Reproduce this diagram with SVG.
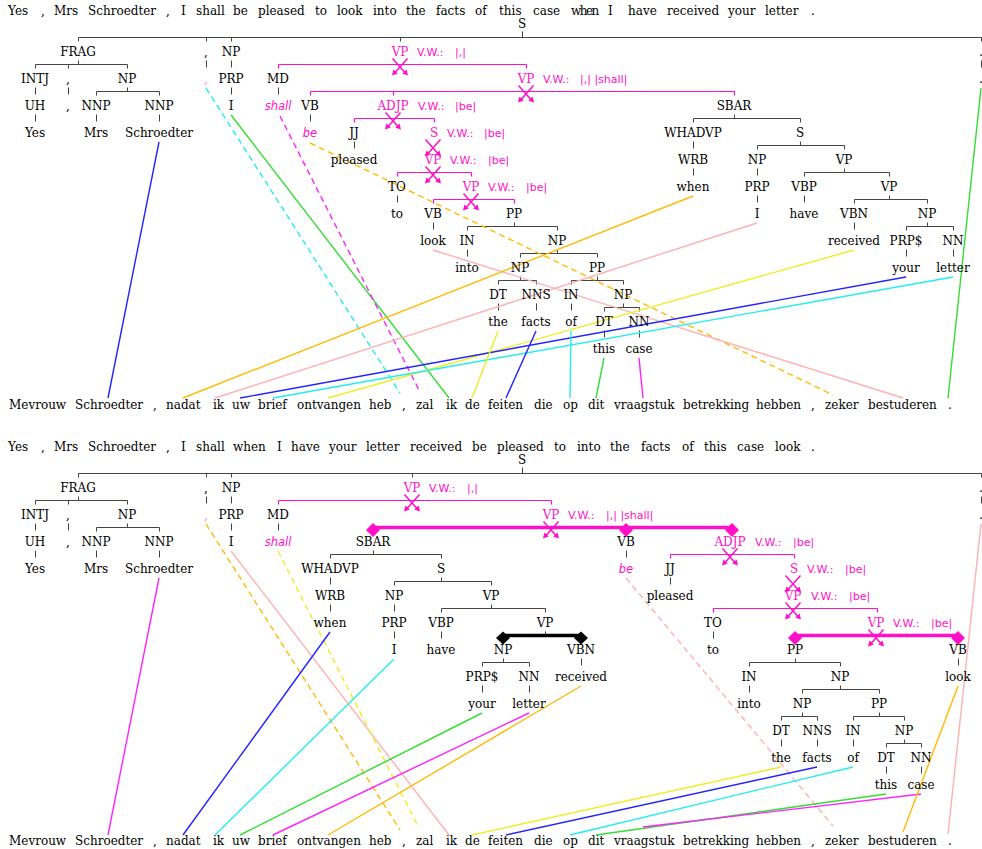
<svg xmlns="http://www.w3.org/2000/svg" width="982" height="849" viewBox="0 0 982 849">
<style>
text{font-family:"DejaVu Serif",serif;font-size:12px;fill:#000}
.l{text-anchor:middle}
.lm{text-anchor:middle;fill:#ff10c8}
.vw{font-family:"DejaVu Sans",sans-serif;font-size:11px;fill:#ff10c8}
.it{font-family:"DejaVu Sans",sans-serif;font-style:italic;font-size:11.5px;fill:#ff10c8;text-anchor:middle}
.pc{text-anchor:middle;fill:#ff88c8}
.t{stroke:#444;stroke-width:1;fill:none}
.tm{stroke:#ff10c8;stroke-width:1.2;fill:none}
.kb{stroke:#000;stroke-width:3.5;fill:none}
.km{stroke:#ff10c8;stroke-width:3.5;fill:none}
.al line{fill:none;stroke-width:1.4}
.d{stroke-dasharray:6 4}
.B{stroke:#2222ff}.C{stroke:#22eeee}.G{stroke:#33dd33}.M{stroke:#ff22ff}.O{stroke:#ffbb00}.P{stroke:#ffb0b0}.Y{stroke:#eeee22}
</style>
<defs>
<g id="xm">
<path d="M-7.5,-8.5 L6.3,7 M7.5,-8.5 L-6.3,7" stroke="#ff10c8" stroke-width="1.5" fill="none"/>
<path d="M8,8.5 L2.2,6.6 L6.6,2.5Z M-8,8.5 L-2.2,6.6 L-6.6,2.5Z" fill="#ff10c8"/>
</g>
<path id="dm" d="M0,-7 L7,0 L0,7 L-7,0Z" fill="#ff10c8"/>
<path id="db" d="M0,-6.5 L7,0 L0,6.5 L-7,0Z" fill="#000"/>
</defs>
<rect width="982" height="849" fill="#fff"/>

<g id="sentences">
<text id="s-en1" y="15"><tspan x="8">Yes</tspan><tspan x="41">,</tspan><tspan x="54">Mrs</tspan><tspan x="88">Schroedter</tspan><tspan x="166">,</tspan><tspan x="181">I</tspan><tspan x="196">shall</tspan><tspan x="233">be</tspan><tspan x="258">pleased</tspan><tspan x="315">to</tspan><tspan x="337">look</tspan><tspan x="373">into</tspan><tspan x="406">the</tspan><tspan x="436">facts</tspan><tspan x="475">of</tspan><tspan x="499">this</tspan><tspan x="533">case</tspan><tspan x="571" style="letter-spacing:-1.5px">when</tspan><tspan x="608">I</tspan><tspan x="628">have</tspan><tspan x="667">received</tspan><tspan x="728">your</tspan><tspan x="765">letter</tspan><tspan x="811">.</tspan></text>
<text id="s-nl1" y="409"><tspan x="9">Mevrouw</tspan><tspan x="75">Schroedter</tspan><tspan x="153">,</tspan><tspan x="166">nadat</tspan><tspan x="213">ik</tspan><tspan x="232">uw</tspan><tspan x="258">brief</tspan><tspan x="297">ontvangen</tspan><tspan x="369">heb</tspan><tspan x="402">,</tspan><tspan x="416">zal</tspan><tspan x="446">ik</tspan><tspan x="465">de</tspan><tspan x="488">feiten</tspan><tspan x="534">die</tspan><tspan x="563">op</tspan><tspan x="588">dit</tspan><tspan x="614">vraagstuk</tspan><tspan x="683">betrekking</tspan><tspan x="756">hebben</tspan><tspan x="811">,</tspan><tspan x="825">zeker</tspan><tspan x="868">bestuderen</tspan><tspan x="948">.</tspan></text>
<text id="s-en2" y="451"><tspan x="8">Yes</tspan><tspan x="41">,</tspan><tspan x="54">Mrs</tspan><tspan x="88">Schroedter</tspan><tspan x="166">,</tspan><tspan x="181">I</tspan><tspan x="196">shall</tspan><tspan x="233">when</tspan><tspan x="277">I</tspan><tspan x="291">have</tspan><tspan x="329">your</tspan><tspan x="366">letter</tspan><tspan x="410">received</tspan><tspan x="472">be</tspan><tspan x="497">pleased</tspan><tspan x="554">to</tspan><tspan x="577">into</tspan><tspan x="610">the</tspan><tspan x="641">facts</tspan><tspan x="682">of</tspan><tspan x="704">this</tspan><tspan x="737">case</tspan><tspan x="775">look</tspan><tspan x="811">.</tspan></text>
<text id="s-nl2" y="845"><tspan x="9">Mevrouw</tspan><tspan x="75">Schroedter</tspan><tspan x="153">,</tspan><tspan x="166">nadat</tspan><tspan x="213">ik</tspan><tspan x="232">uw</tspan><tspan x="258">brief</tspan><tspan x="297">ontvangen</tspan><tspan x="369">heb</tspan><tspan x="402">,</tspan><tspan x="416">zal</tspan><tspan x="446">ik</tspan><tspan x="465">de</tspan><tspan x="488">feiten</tspan><tspan x="534">die</tspan><tspan x="563">op</tspan><tspan x="588">dit</tspan><tspan x="614">vraagstuk</tspan><tspan x="683">betrekking</tspan><tspan x="756">hebben</tspan><tspan x="811">,</tspan><tspan x="825">zeker</tspan><tspan x="868">bestuderen</tspan><tspan x="948">.</tspan></text>
</g>

<g id="connectors">
<g id="tree-edges" transform="translate(0.5,0.5)">
<path class="t" d="M522,31V37 M78,37H981 M78,37V41 M206,37V41 M231,37V41 M400,37V41 M981,37V41 M78,60V64 M35,64H127 M35,64V68 M68,64V68 M127,64V68 M206,60V67 M231,60V67 M981,60V67 M35,87V94 M68,87V94 M127,87V91 M96,91H159 M96,91V95 M159,91V95 M231,87V94 M278,87V94 M35,114V121 M96,114V121 M159,114V121 M310,114V121 M734,114V118 M693,118H800 M693,118V122 M800,118V122 M354,141V148 M693,141V148 M800,141V145 M757,145H844 M757,145V149 M844,145V149 M693,168V175 M757,168V175 M844,168V172 M804,172H889 M804,172V176 M889,172V176 M397,195V202 M757,195V202 M804,195V202 M889,195V199 M854,199H927 M854,199V203 M927,199V203 M433,222V229 M514,222V226 M467,226H557 M467,226V230 M557,226V230 M854,222V229 M927,222V226 M906,226H953 M906,226V230 M953,226V230 M467,249V256 M557,249V253 M520,253H597 M520,253V257 M597,253V257 M906,249V256 M953,249V256 M520,276V280 M498,280H536 M498,280V284 M536,280V284 M597,276V280 M571,280H623 M571,280V284 M623,280V284 M498,303V310 M536,303V310 M571,303V310 M623,303V307 M604,307H639 M604,307V311 M639,307V311 M604,330V337 M639,330V337"/>
<path class="tm" d="M278,64H526 M278,64V68 M526,64V68 M310,91H734 M310,91V95 M393,91V95 M734,91V95 M354,118H434 M354,118V122 M434,118V122 M397,172H471 M397,172V176 M471,172V176 M433,199H514 M433,199V203 M514,199V203"/>
<path class="t" d="M522,467V473 M78,473H981 M78,473V477 M206,473V477 M231,473V477 M412,473V477 M981,473V477 M78,496V500 M35,500H127 M35,500V504 M68,500V504 M127,500V504 M206,496V503 M231,496V503 M981,496V503 M35,523V530 M68,523V530 M127,523V527 M96,527H159 M96,527V531 M159,527V531 M231,523V530 M278,523V530 M35,550V557 M96,550V557 M159,550V557 M373,550V554 M330,554H441 M330,554V558 M441,554V558 M626,550V557 M330,577V584 M441,577V581 M394,581H491 M394,581V585 M491,581V585 M670,577V584 M330,604V611 M394,604V611 M491,604V608 M441,608H545 M441,608V612 M545,608V612 M394,631V638 M441,631V638 M545,631V635 M713,631V638 M503,658V662 M482,662H529 M482,662V666 M529,662V666 M581,658V665 M795,658V662 M749,662H840 M749,662V666 M840,662V666 M958,658V665 M482,685V692 M529,685V692 M749,685V692 M840,685V689 M802,689H879 M802,689V693 M879,689V693 M802,712V716 M781,716H817 M781,716V720 M817,716V720 M879,712V716 M853,716H904 M853,716V720 M904,716V720 M781,739V746 M817,739V746 M853,739V746 M904,739V743 M886,743H921 M886,743V747 M921,743V747 M886,766V773 M921,766V773"/>
<path class="tm" d="M278,500H551 M278,500V504 M551,500V504 M670,554H794 M670,554V558 M794,554V558 M713,608H877 M713,608V612 M877,608V612"/>
<path class="kb" d="M503,635H581"/>
<path class="km" d="M373,527H732 M795,635H958"/>
</g>
<g id="markers">
<use href="#xm" x="400" y="67"/><use href="#xm" x="526" y="94"/><use href="#xm" x="393" y="121"/><use href="#xm" x="433" y="148"/><use href="#xm" x="433" y="175"/><use href="#xm" x="471" y="202"/>
<use href="#xm" x="412" y="503"/><use href="#xm" x="551" y="530"/><use href="#xm" x="730" y="557"/><use href="#xm" x="793" y="584"/><use href="#xm" x="793" y="611"/><use href="#xm" x="876" y="638"/>
<use href="#dm" x="373" y="530"/><use href="#dm" x="626" y="530"/><use href="#dm" x="732" y="530"/><use href="#dm" x="795" y="638"/><use href="#dm" x="958" y="638"/>
<use href="#db" x="503" y="638"/><use href="#db" x="581" y="638"/>
</g>
<g id="alignments" class="al">
<line class="B" x1="159" y1="142" x2="108" y2="398"/>
<line class="C d" x1="206" y1="88" x2="400" y2="393"/>
<line class="G" x1="231" y1="115" x2="449" y2="398"/>
<line class="M d" x1="280" y1="116" x2="419" y2="390"/>
<line class="O d" x1="310" y1="143" x2="833" y2="395"/>
<line class="P" x1="433" y1="250" x2="903" y2="398"/>
<line class="O" x1="693" y1="196" x2="183" y2="398"/>
<line class="P" x1="757" y1="223" x2="215" y2="398"/>
<line class="Y" x1="854" y1="250" x2="328" y2="398"/>
<line class="B" x1="906" y1="277" x2="240" y2="398"/>
<line class="C" x1="953" y1="277" x2="273" y2="398"/>
<line class="Y" x1="498" y1="331" x2="472" y2="398"/>
<line class="B" x1="536" y1="331" x2="506" y2="398"/>
<line class="C" x1="571" y1="331" x2="570" y2="398"/>
<line class="G" x1="604" y1="358" x2="596" y2="398"/>
<line class="M" x1="639" y1="358" x2="643" y2="398"/>
<line class="G" x1="981" y1="88" x2="948" y2="398"/>
<line class="M" x1="159" y1="578" x2="108" y2="835"/>
<line class="O d" x1="206" y1="524" x2="400" y2="830"/>
<line class="P" x1="231" y1="551" x2="449" y2="835"/>
<line class="Y d" x1="278" y1="551" x2="419" y2="828"/>
<line class="B" x1="330" y1="632" x2="183" y2="835"/>
<line class="C" x1="394" y1="659" x2="215" y2="835"/>
<line class="G" x1="482" y1="713" x2="240" y2="835"/>
<line class="M" x1="529" y1="713" x2="273" y2="835"/>
<line class="O" x1="581" y1="686" x2="328" y2="835"/>
<line class="P d" x1="626" y1="578" x2="833" y2="826"/>
<line class="Y" x1="781" y1="767" x2="472" y2="835"/>
<line class="B" x1="817" y1="767" x2="506" y2="835"/>
<line class="C" x1="853" y1="767" x2="570" y2="835"/>
<line class="G" x1="886" y1="794" x2="596" y2="835"/>
<line class="M" x1="921" y1="794" x2="643" y2="827"/>
<line class="O" x1="958" y1="686" x2="903" y2="832"/>
<line class="P" x1="981" y1="524" x2="948" y2="834"/>
</g>
</g>

<g id="tree1">
<g id="a-S"><text class="l" x="522" y="28">S</text></g>
<g id="a-FRAG"><text class="l" x="78" y="56">FRAG</text></g>
<g id="a-c1"><text class="l" x="206" y="56">,</text></g>
<g id="a-NP1"><text class="l" x="231" y="56">NP</text></g>
<g id="a-VP1"><text class="lm" x="400" y="56">VP</text><text class="vw" x="417" y="56">V.W.:<tspan x="455">|,|</tspan></text></g>
<g id="a-p1"><text class="l" x="981" y="56">.</text></g>
<g id="a-INTJ"><text class="l" x="35" y="83">INTJ</text></g>
<g id="a-c2"><text class="l" x="68" y="83">,</text></g>
<g id="a-NP2"><text class="l" x="127" y="83">NP</text></g>
<g id="a-cw"><text class="pc" x="206" y="83">,</text></g>
<g id="a-PRP1"><text class="l" x="231" y="83">PRP</text></g>
<g id="a-MD"><text class="l" x="278" y="83">MD</text></g>
<g id="a-VP2"><text class="lm" x="526" y="83">VP</text><text class="vw" x="543" y="83">V.W.:<tspan x="580">|,| |shall|</tspan></text></g>
<g id="a-pw"><text class="l" x="981" y="83">.</text></g>
<g id="a-UH"><text class="l" x="35" y="110">UH</text></g>
<g id="a-c3"><text class="l" x="68" y="110">,</text></g>
<g id="a-NNP1"><text class="l" x="96" y="110">NNP</text></g>
<g id="a-NNP2"><text class="l" x="159" y="110">NNP</text></g>
<g id="a-I1"><text class="l" x="231" y="110">I</text></g>
<g id="a-shall"><text class="it" x="278" y="110">shall</text></g>
<g id="a-VB1"><text class="l" x="310" y="110">VB</text></g>
<g id="a-ADJP"><text class="lm" x="393" y="110">ADJP</text><text class="vw" x="418" y="110">V.W.:<tspan x="455">|be|</tspan></text></g>
<g id="a-SBAR"><text class="l" x="734" y="110">SBAR</text></g>
<g id="a-Yes"><text class="l" x="35" y="137">Yes</text></g>
<g id="a-Mrs"><text class="l" x="96" y="137">Mrs</text></g>
<g id="a-Schroedter"><text class="l" x="159" y="137">Schroedter</text></g>
<g id="a-be"><text class="it" x="310" y="137">be</text></g>
<g id="a-JJ"><text class="l" x="354" y="137">JJ</text></g>
<g id="a-S2"><text class="lm" x="434" y="137">S</text><text class="vw" x="447" y="137">V.W.:<tspan x="484">|be|</tspan></text></g>
<g id="a-WHADVP"><text class="l" x="693" y="137">WHADVP</text></g>
<g id="a-S3"><text class="l" x="800" y="137">S</text></g>
<g id="a-pleased"><text class="l" x="354" y="164">pleased</text></g>
<g id="a-VP3"><text class="lm" x="433" y="164">VP</text><text class="vw" x="450" y="164">V.W.:<tspan x="488">|be|</tspan></text></g>
<g id="a-WRB"><text class="l" x="693" y="164">WRB</text></g>
<g id="a-NP3"><text class="l" x="757" y="164">NP</text></g>
<g id="a-VP4"><text class="l" x="844" y="164">VP</text></g>
<g id="a-TO"><text class="l" x="397" y="191">TO</text></g>
<g id="a-VP5"><text class="lm" x="471" y="191">VP</text><text class="vw" x="488" y="191">V.W.:<tspan x="526">|be|</tspan></text></g>
<g id="a-when"><text class="l" x="693" y="191">when</text></g>
<g id="a-PRP2"><text class="l" x="757" y="191">PRP</text></g>
<g id="a-VBP"><text class="l" x="804" y="191">VBP</text></g>
<g id="a-VP6"><text class="l" x="889" y="191">VP</text></g>
<g id="a-to"><text class="l" x="397" y="218">to</text></g>
<g id="a-VB2"><text class="l" x="433" y="218">VB</text></g>
<g id="a-PP1"><text class="l" x="514" y="218">PP</text></g>
<g id="a-I2"><text class="l" x="757" y="218">I</text></g>
<g id="a-have"><text class="l" x="804" y="218">have</text></g>
<g id="a-VBN"><text class="l" x="854" y="218">VBN</text></g>
<g id="a-NP4"><text class="l" x="927" y="218">NP</text></g>
<g id="a-look"><text class="l" x="433" y="245">look</text></g>
<g id="a-IN1"><text class="l" x="467" y="245">IN</text></g>
<g id="a-NP5"><text class="l" x="557" y="245">NP</text></g>
<g id="a-received"><text class="l" x="854" y="245">received</text></g>
<g id="a-PRPS"><text class="l" x="906" y="245">PRP$</text></g>
<g id="a-NN1"><text class="l" x="953" y="245">NN</text></g>
<g id="a-into"><text class="l" x="467" y="272">into</text></g>
<g id="a-NP6"><text class="l" x="520" y="272">NP</text></g>
<g id="a-PP2"><text class="l" x="597" y="272">PP</text></g>
<g id="a-your"><text class="l" x="906" y="272">your</text></g>
<g id="a-letter"><text class="l" x="953" y="272">letter</text></g>
<g id="a-DT1"><text class="l" x="498" y="299">DT</text></g>
<g id="a-NNS"><text class="l" x="536" y="299">NNS</text></g>
<g id="a-IN2"><text class="l" x="571" y="299">IN</text></g>
<g id="a-NP7"><text class="l" x="623" y="299">NP</text></g>
<g id="a-the"><text class="l" x="498" y="326">the</text></g>
<g id="a-facts"><text class="l" x="536" y="326">facts</text></g>
<g id="a-of"><text class="l" x="571" y="326">of</text></g>
<g id="a-DT2"><text class="l" x="604" y="326">DT</text></g>
<g id="a-NN2"><text class="l" x="639" y="326">NN</text></g>
<g id="a-this"><text class="l" x="604" y="353">this</text></g>
<g id="a-case"><text class="l" x="639" y="353">case</text></g>
</g>

<g id="tree2">
<g id="b-S"><text class="l" x="522" y="464">S</text></g>
<g id="b-FRAG"><text class="l" x="78" y="492">FRAG</text></g>
<g id="b-c1"><text class="l" x="206" y="492">,</text></g>
<g id="b-NP1"><text class="l" x="231" y="492">NP</text></g>
<g id="b-VP1"><text class="lm" x="412" y="492">VP</text><text class="vw" x="429" y="492">V.W.:<tspan x="467">|,|</tspan></text></g>
<g id="b-p1"><text class="l" x="981" y="492">.</text></g>
<g id="b-INTJ"><text class="l" x="35" y="519">INTJ</text></g>
<g id="b-c2"><text class="l" x="68" y="519">,</text></g>
<g id="b-NP2"><text class="l" x="127" y="519">NP</text></g>
<g id="b-cw"><text class="pc" x="206" y="519">,</text></g>
<g id="b-PRP1"><text class="l" x="231" y="519">PRP</text></g>
<g id="b-MD"><text class="l" x="278" y="519">MD</text></g>
<g id="b-VP2"><text class="lm" x="551" y="519">VP</text><text class="vw" x="568" y="519">V.W.:<tspan x="606">|,| |shall|</tspan></text></g>
<g id="b-pw"><text class="l" x="981" y="519">.</text></g>
<g id="b-UH"><text class="l" x="35" y="546">UH</text></g>
<g id="b-c3"><text class="l" x="68" y="546">,</text></g>
<g id="b-NNP1"><text class="l" x="96" y="546">NNP</text></g>
<g id="b-NNP2"><text class="l" x="159" y="546">NNP</text></g>
<g id="b-I1"><text class="l" x="231" y="546">I</text></g>
<g id="b-shall"><text class="it" x="278" y="546">shall</text></g>
<g id="b-SBAR"><text class="l" x="373" y="546">SBAR</text></g>
<g id="b-VB1"><text class="l" x="626" y="546">VB</text></g>
<g id="b-ADJP"><text class="lm" x="730" y="546">ADJP</text><text class="vw" x="755" y="546">V.W.:<tspan x="793">|be|</tspan></text></g>
<g id="b-Yes"><text class="l" x="35" y="573">Yes</text></g>
<g id="b-Mrs"><text class="l" x="96" y="573">Mrs</text></g>
<g id="b-Schroedter"><text class="l" x="159" y="573">Schroedter</text></g>
<g id="b-WHADVP"><text class="l" x="330" y="573">WHADVP</text></g>
<g id="b-S2"><text class="l" x="441" y="573">S</text></g>
<g id="b-be"><text class="it" x="626" y="573">be</text></g>
<g id="b-JJ"><text class="l" x="670" y="573">JJ</text></g>
<g id="b-S3"><text class="lm" x="794" y="573">S</text><text class="vw" x="807" y="573">V.W.:<tspan x="845">|be|</tspan></text></g>
<g id="b-WRB"><text class="l" x="330" y="600">WRB</text></g>
<g id="b-NP3"><text class="l" x="394" y="600">NP</text></g>
<g id="b-VP3"><text class="l" x="491" y="600">VP</text></g>
<g id="b-pleased"><text class="l" x="670" y="600">pleased</text></g>
<g id="b-VP4"><text class="lm" x="793" y="600">VP</text><text class="vw" x="811" y="600">V.W.:<tspan x="849">|be|</tspan></text></g>
<g id="b-when"><text class="l" x="330" y="627">when</text></g>
<g id="b-PRP2"><text class="l" x="394" y="627">PRP</text></g>
<g id="b-VBP"><text class="l" x="441" y="627">VBP</text></g>
<g id="b-VP5"><text class="l" x="545" y="627">VP</text></g>
<g id="b-TO"><text class="l" x="713" y="627">TO</text></g>
<g id="b-VP6"><text class="lm" x="876" y="627">VP</text><text class="vw" x="893" y="627">V.W.:<tspan x="931">|be|</tspan></text></g>
<g id="b-I2"><text class="l" x="394" y="654">I</text></g>
<g id="b-have"><text class="l" x="441" y="654">have</text></g>
<g id="b-NP4"><text class="l" x="503" y="654">NP</text></g>
<g id="b-VBN"><text class="l" x="581" y="654">VBN</text></g>
<g id="b-to"><text class="l" x="713" y="654">to</text></g>
<g id="b-PP1"><text class="l" x="795" y="654">PP</text></g>
<g id="b-VB2"><text class="l" x="958" y="654">VB</text></g>
<g id="b-PRPS"><text class="l" x="482" y="681">PRP$</text></g>
<g id="b-NN1"><text class="l" x="529" y="681">NN</text></g>
<g id="b-received"><text class="l" x="581" y="681">received</text></g>
<g id="b-IN1"><text class="l" x="749" y="681">IN</text></g>
<g id="b-NP5"><text class="l" x="840" y="681">NP</text></g>
<g id="b-look"><text class="l" x="958" y="681">look</text></g>
<g id="b-your"><text class="l" x="482" y="708">your</text></g>
<g id="b-letter"><text class="l" x="529" y="708">letter</text></g>
<g id="b-into"><text class="l" x="749" y="708">into</text></g>
<g id="b-NP6"><text class="l" x="802" y="708">NP</text></g>
<g id="b-PP2"><text class="l" x="879" y="708">PP</text></g>
<g id="b-DT1"><text class="l" x="781" y="735">DT</text></g>
<g id="b-NNS"><text class="l" x="817" y="735">NNS</text></g>
<g id="b-IN2"><text class="l" x="853" y="735">IN</text></g>
<g id="b-NP7"><text class="l" x="904" y="735">NP</text></g>
<g id="b-the"><text class="l" x="781" y="762">the</text></g>
<g id="b-facts"><text class="l" x="817" y="762">facts</text></g>
<g id="b-of"><text class="l" x="853" y="762">of</text></g>
<g id="b-DT2"><text class="l" x="886" y="762">DT</text></g>
<g id="b-NN2"><text class="l" x="921" y="762">NN</text></g>
<g id="b-this"><text class="l" x="886" y="789">this</text></g>
<g id="b-case"><text class="l" x="921" y="789">case</text></g>
</g>
</svg>
